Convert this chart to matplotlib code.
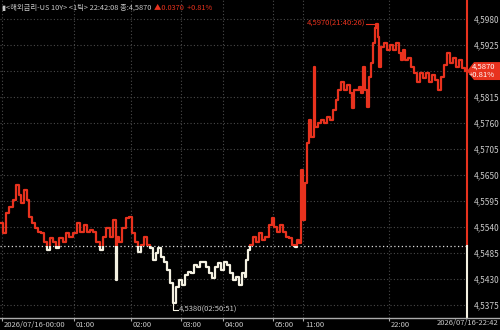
import matplotlib
matplotlib.use('Agg')
import matplotlib.pyplot as plt
from matplotlib.patches import Rectangle, Polygon
from matplotlib import transforms

plt.rcParams['font.family'] = ['Noto Sans CJK KR', 'DejaVu Sans']

# bar index (compressed time axis) and tick prices
bars = [0, 2, 5, 8, 12, 15, 18, 20, 23, 26, 28, 31, 34, 37, 40, 43, 46, 49, 52, 55,
        58, 62, 65, 68, 72, 76, 79, 83, 86, 89, 92, 95, 99, 102, 105, 109, 112, 115, 116, 118,
        121, 125, 128, 131, 134, 137, 140, 143, 146, 149, 152, 155, 157, 160, 163, 166, 169, 172, 175, 178,
        181, 184, 187, 190, 193, 196, 199, 202, 205, 208, 211, 214, 217, 220, 223, 226, 229, 232, 235, 238,
        241, 244, 245, 247, 249, 252, 255, 258, 261, 264, 268, 271, 273, 276, 279, 282, 285, 288, 291, 294,
        296, 298, 300, 302, 304, 306, 308, 310, 313, 314, 317, 320, 323, 326, 329, 332, 335, 337, 340, 343,
        346, 349, 351, 353, 356, 358, 360, 362, 364, 366, 368, 370, 372, 374, 375, 377, 378, 380, 383, 386,
        389, 392, 395, 398, 400, 402, 404, 407, 410, 413, 416, 419, 422, 425, 428, 431, 434, 437, 440, 443,
        446, 449, 452, 455, 458, 461, 464]
prices = [4.5549, 4.5527, 4.5570, 4.5582, 4.5597, 4.5629, 4.5608, 4.5591, 4.5618, 4.5597,
          4.5561, 4.5549, 4.5538, 4.5530, 4.5527, 4.5508, 4.5492, 4.5517, 4.5508, 4.5496,
          4.5517, 4.5508, 4.5527, 4.5519, 4.5527, 4.5549, 4.5530, 4.5544, 4.5530, 4.5534,
          4.5530, 4.5508, 4.5492, 4.5519, 4.5538, 4.5519, 4.5555, 4.5428, 4.5519, 4.5508,
          4.5538, 4.5559, 4.5561, 4.5527, 4.5508, 4.5487, 4.5502, 4.5519, 4.5502, 4.5496,
          4.5470, 4.5485, 4.5496, 4.5477, 4.5466, 4.5449, 4.5422, 4.5380, 4.5413, 4.5428,
          4.5418, 4.5439, 4.5445, 4.5443, 4.5460, 4.5456, 4.5466, 4.5466, 4.5456, 4.5443,
          4.5432, 4.5456, 4.5464, 4.5449, 4.5466, 4.5460, 4.5443, 4.5428, 4.5434, 4.5418,
          4.5443, 4.5434, 4.5470, 4.5492, 4.5502, 4.5519, 4.5508, 4.5527, 4.5513, 4.5519,
          4.5544, 4.5559, 4.5540, 4.5530, 4.5544, 4.5530, 4.5519, 4.5517, 4.5502, 4.5498,
          4.5513, 4.5506, 4.5661, 4.5555, 4.5633, 4.5718, 4.5766, 4.5731, 4.5879, 4.5752,
          4.5760, 4.5766, 4.5760, 4.5773, 4.5766, 4.5788, 4.5809, 4.5830, 4.5847, 4.5830,
          4.5841, 4.5824, 4.5792, 4.5830, 4.5830, 4.5836, 4.5824, 4.5879, 4.5830, 4.5794,
          4.5857, 4.5887, 4.5929, 4.5961, 4.5970, 4.5942, 4.5879, 4.5921, 4.5929, 4.5915,
          4.5925, 4.5915, 4.5929, 4.5908, 4.5893, 4.5915, 4.5893, 4.5898, 4.5879, 4.5866,
          4.5847, 4.5866, 4.5855, 4.5866, 4.5847, 4.5862, 4.5851, 4.5830, 4.5857, 4.5883,
          4.5908, 4.5887, 4.5898, 4.5879, 4.5893, 4.5876, 4.5870]

prev_close = 4.5500
price_ticks = [4.5375, 4.5430, 4.5485, 4.5540, 4.5595, 4.5650, 4.5705, 4.5760,
               4.5815, 4.5870, 4.5925, 4.5980]
time_ticks = [1, 73, 130, 180, 222, 272, 302, 388]
time_labels = ['2026/07/16-00:00', '01:00', '02:00', '03:00', '04:00', '05:00', '11:00', '22:00']

RED = '#e8321e'
WHITE = '#f4f1e2'
GRID = '#4a4a4a'
TXT = '#c8c8c8'

fig = plt.figure(figsize=(5, 3.3), dpi=100, facecolor='black')
ax = fig.add_axes([0, 12 / 330, 467 / 500, 318 / 330], facecolor='black')
ymin, ymax = 4.53477, 4.60203
xmin, xmax = -1, 466
ax.set_xlim(xmin, xmax)
ax.set_ylim(ymin, ymax)

# grid
for p in price_ticks:
    ax.axhline(p, color=GRID, lw=0.8, ls=(0, (1, 2)))
for t in time_ticks:
    ax.axvline(t, color=GRID, lw=0.8, ls=(0, (1, 2)))
ax.axhline(prev_close, color='#dddddd', lw=0.9, ls=(0, (1, 2)))

# price line: red above previous close, white below
up = Rectangle((xmin, prev_close), xmax - xmin, ymax - prev_close, transform=ax.transData)
dn = Rectangle((xmin, ymin), xmax - xmin, prev_close - ymin, transform=ax.transData)
l1, = ax.plot(bars, prices, color=RED, lw=1.6, drawstyle='steps-post')
l2, = ax.plot(bars, prices, color=WHITE, lw=1.6, drawstyle='steps-post')
l1.set_clip_path(up)
l2.set_clip_path(dn)

# right border line
ax.plot([xmax, xmax], [prev_close, ymax], color=RED, lw=1.5, clip_on=False)
ax.plot([xmax, xmax], [ymin, prev_close], color=WHITE, lw=1.5, clip_on=False)

for s in ax.spines.values():
    s.set_visible(False)

# y ticks on the right (current price box covers the 4.5870 label)
last = prices[-1]
ax.yaxis.tick_right()
ax.set_yticks(price_ticks)
ax.set_yticklabels(['' if abs(p - last) < 1e-6 else ('%.4f' % p).replace('.', ',')
                    for p in price_ticks])
ax.tick_params(axis='y', length=0, pad=5, labelsize=6, labelcolor=TXT)

# x ticks, labels just right of the tick mark
ax.set_xticks(time_ticks)
ax.set_xticklabels(time_labels, ha='left')
ax.tick_params(axis='x', length=2, color='#aaaaaa', direction='out', pad=0.5,
               labelsize=5.5, labelcolor=TXT)
offset = transforms.ScaledTranslation(2 / 100, 0, fig.dpi_scale_trans)
for lab in ax.get_xticklabels():
    lab.set_transform(lab.get_transform() + offset)

# bottom axis line across full width
fig.add_artist(plt.Line2D([0, 1], [12 / 330, 12 / 330], color='#aaaaaa', lw=1))
fig.text(0.996, 6.5 / 330, '2026/07/16-22:42', color=TXT, fontsize=5.5, ha='right', va='center')

# high / low annotations
ax.plot([365, 373], [4.5970, 4.5970], color=RED, lw=0.8)
ax.text(364, 4.5970, '4,5970(21:40:26)', color=RED, fontsize=5.5, ha='right', va='center')
ax.plot([172, 172, 177], [4.5380, 4.5365, 4.5365], color=WHITE, lw=0.8)
ax.text(178, 4.5365, '4,5380(02:50:51)', color=TXT, fontsize=5.5, ha='left', va='center')

# current price box
tr = transforms.blended_transform_factory(fig.transFigure, ax.transData)
h = 0.0019
box = Polygon([(467 / 500, last), (474 / 500, last + h), (1.0, last + h),
               (1.0, last - h), (474 / 500, last - h)], closed=True,
              transform=tr, facecolor=RED, edgecolor='none', clip_on=False)
fig.add_artist(box)
fig.text(0.99, last, '4,5870\n+0.81%', color='white', fontsize=5.5, ha='right', va='center',
         linespacing=1.0, transform=tr)

# header: grey part, then red change right after it
hdr = fig.text(0.004, 0.988, '▮<해외금리-US 10Y> <1틱> 22:42:08 종:4,5870', color=TXT,
               fontsize=5.3, ha='left', va='top')
fig.canvas.draw()
bb = hdr.get_window_extent().transformed(fig.transFigure.inverted())
fig.text(bb.x1 + 0.006, 0.988, '▲0.0370  +0.81%', color=RED, fontsize=5.3, ha='left', va='top')

fig.savefig('out.png', dpi=100, facecolor='black')
